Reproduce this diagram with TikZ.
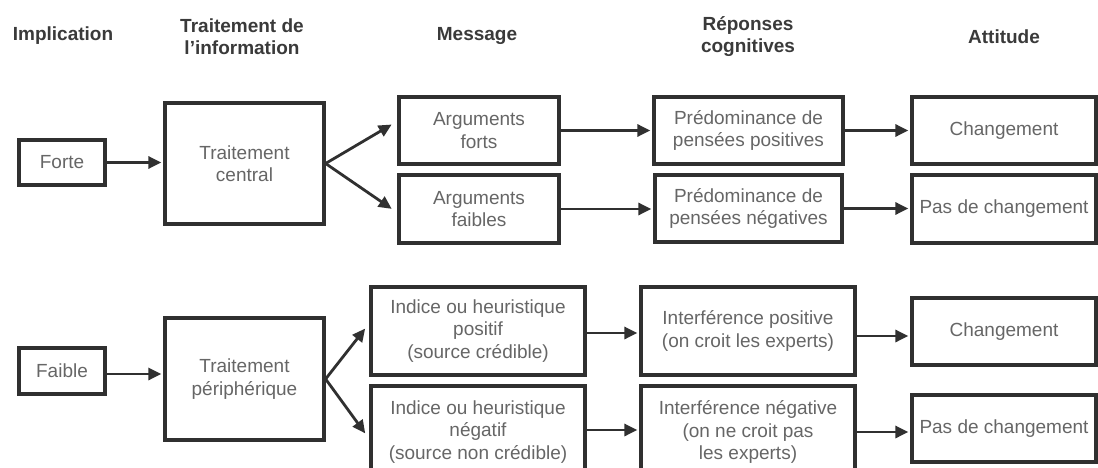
\documentclass[tikz,border=0pt]{standalone}
\usepackage{fontspec}
\setmainfont{Liberation Sans}
\usetikzlibrary{arrows.meta,calc}
\definecolor{linec}{HTML}{303030}
\definecolor{txtc}{HTML}{666666}
\definecolor{headc}{HTML}{3A3A3A}
\begin{document}
\begin{tikzpicture}[x=1pt,y=-1pt,
  bx/.style={draw=linec, line width=3.2pt, inner sep=0pt, align=center, text=txtc,
    font=\fontsize{19}{22.5}\selectfont},
  hd/.style={align=center, text=headc, inner sep=0pt, font=\fontsize{19}{22}\selectfont\bfseries},
  arr/.style={draw=linec, line width=2.8pt, shorten >=2pt, -{Triangle[length=13pt,width=12pt]}}]
\useasboundingbox (0,0) rectangle (1098,468);
\fill[white] (0,0) rectangle (1098,468);
\begin{scope}
\clip (0,0) rectangle (1098,468);
% headers
\node[hd] (h1) at (63,36) {Implication};
\node[hd] (h2) at (242,37) {Traitement de\\l’information};
\node[hd] (h3) at (477,36) {Message};
\node[hd] (h4) at (748,37) {Réponses\\cognitives};
\node[hd] (h5) at (1004,37) {Attitude};
% upper row
\node[bx, minimum width=86, minimum height=45] (forte) at (62,162.5) {Forte};
\node[bx, minimum width=159, minimum height=121] (central) at (244.5,163.5) {Traitement\\central};
\node[bx, minimum width=160, minimum height=67] (argf) at (479,130.5) {Arguments\\forts};
\node[bx, minimum width=160, minimum height=68] (argb) at (479,209) {Arguments\\faibles};
\node[bx, minimum width=189, minimum height=67] (pred1) at (748.5,130.5) {Prédominance de\\pensées positives};
\node[bx, minimum width=187, minimum height=67] (pred2) at (748.5,208.5) {Prédominance de\\pensées négatives};
\node[bx, minimum width=184, minimum height=67] (chg1) at (1004,130.5) {Changement};
\node[bx, minimum width=184, minimum height=68] (pas1) at (1004,209) {Pas de changement};
% lower row
\node[bx, minimum width=86, minimum height=46] (faible) at (62,371) {Faible};
\node[bx, minimum width=159, minimum height=122] (periph) at (244.5,379) {Traitement\\périphérique};
\node[bx, minimum width=214, minimum height=88] (indp) at (478,331) {Indice ou heuristique\\positif\\(source crédible)};
\node[bx, minimum width=214, minimum height=92] (indn) at (478,432) {Indice ou heuristique\\négatif\\(source non crédible)};
\node[bx, minimum width=214, minimum height=88] (intp) at (748,331) {Interférence positive\\(on croit les experts)};
\node[bx, minimum width=214, minimum height=92] (intn) at (748,432) {Interférence négative\\(on ne croit pas\\les experts)};
\node[bx, minimum width=184, minimum height=67] (chg2) at (1004,331.5) {Changement};
\node[bx, minimum width=184, minimum height=67] (pas2) at (1004,428.5) {Pas de changement};
% arrows
\draw[arr] (forte.east) -- (forte.east -| central.west);
\draw[arr] (central.east) -- ($(argf.west)+(-4,-7)$);
\draw[arr] (central.east) -- ($(argb.west)+(-4,1)$);
\draw[arr] (argf.east) -- (argf.east -| pred1.west);
\draw[arr] (argb.east) -- (argb.east -| pred2.west);
\draw[arr] (pred1.east) -- (pred1.east -| chg1.west);
\draw[arr] (pred2.east) -- (pred2.east -| pas1.west);
\draw[arr] ($(faible.east)+(0,3)$) -- ($(faible.east -| periph.west)+(0,3)$);
\draw[arr] (periph.east) -- ($(indp.west)+(-3,-4)$);
\draw[arr] (periph.east) -- ($(indn.west)+(-3,3)$);
\draw[arr] ($(indp.east)+(0,2)$) -- ($(indp.east -| intp.west)+(0,2)$);
\draw[arr] ($(indn.east)+(0,-2)$) -- ($(indn.east -| intn.west)+(0,-2)$);
\draw[arr] ($(intp.east)+(0,5)$) -- ($(intp.east -| chg2.west)+(0,5)$);
\draw[arr] (intn.east) -- (intn.east -| pas2.west);
\end{scope}
\end{tikzpicture}
\end{document}
